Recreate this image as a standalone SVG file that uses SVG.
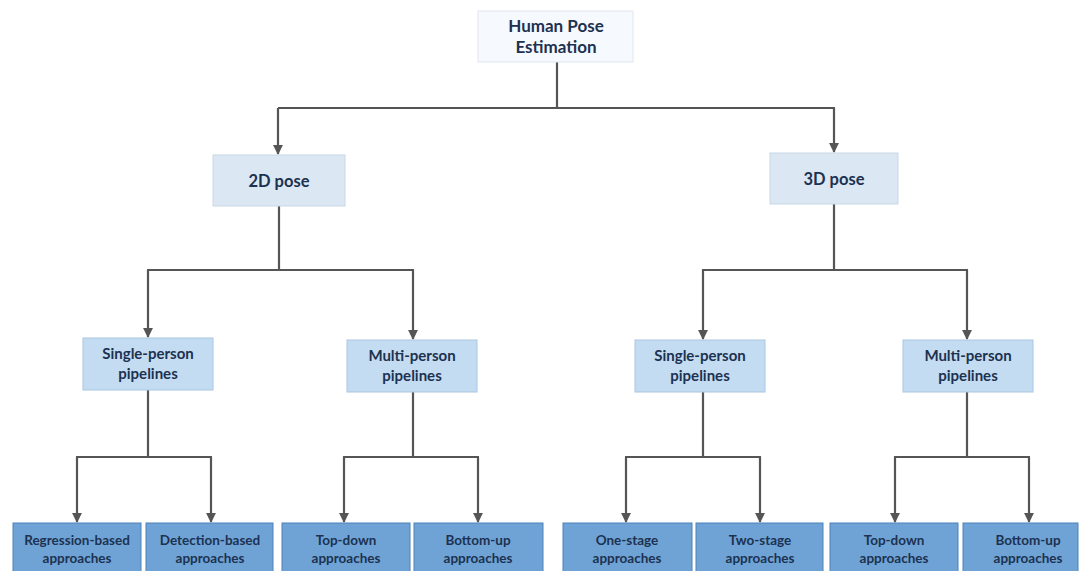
<svg xmlns="http://www.w3.org/2000/svg" width="1080" height="571" viewBox="0 0 1080 571">
  <defs>
    <marker id="arr" viewBox="0 0 10 10" refX="9" refY="5" markerWidth="4.5" markerHeight="4.5" orient="auto" markerUnits="strokeWidth">
      <path d="M0,0 L10,5 L0,10 z" fill="#555"/>
    </marker>
    <style>
      .root { fill: #f6f9fd; stroke: #dfe6ee; stroke-width: 1; }
      .mid { fill: #dbe7f3; stroke: #c9d7e6; stroke-width: 1; }
      .sub { fill: #c4dcf1; stroke: #a9c6e2; stroke-width: 1; }
      .leaf { fill: #6fa3d6; stroke: #4d82b8; stroke-width: 1; }
      .t { font-family: Lato, "Open Sans", "Liberation Sans", sans-serif; font-weight: 700; fill: #1c3250; text-anchor: middle; }
      .conn { fill: none; stroke: #555; stroke-width: 2.2; }
    </style>
  </defs>
  <rect width="1080" height="571" fill="#ffffff"/>

  <!-- connectors -->
  <g id="connectors">
    <path class="conn" d="M557,62 V108"/>
    <path class="conn" d="M278,108 H835"/>
    <path class="conn" d="M278,108 V154" marker-end="url(#arr)"/>
    <path class="conn" d="M834,108 V152" marker-end="url(#arr)"/>

    <path class="conn" d="M279,206 V270"/>
    <path class="conn" d="M147,270 H414"/>
    <path class="conn" d="M148,270 V337" marker-end="url(#arr)"/>
    <path class="conn" d="M413,270 V339" marker-end="url(#arr)"/>

    <path class="conn" d="M834,204 V270"/>
    <path class="conn" d="M702,270 H968"/>
    <path class="conn" d="M703,270 V339" marker-end="url(#arr)"/>
    <path class="conn" d="M967,270 V339" marker-end="url(#arr)"/>

    <path class="conn" d="M148,390 V457"/>
    <path class="conn" d="M76,457 H212"/>
    <path class="conn" d="M77,457 V522" marker-end="url(#arr)"/>
    <path class="conn" d="M211,457 V522" marker-end="url(#arr)"/>

    <path class="conn" d="M413,392 V457"/>
    <path class="conn" d="M343,457 H479"/>
    <path class="conn" d="M344,457 V522" marker-end="url(#arr)"/>
    <path class="conn" d="M478,457 V522" marker-end="url(#arr)"/>

    <path class="conn" d="M703,392 V457"/>
    <path class="conn" d="M625,457 H761"/>
    <path class="conn" d="M626,457 V522" marker-end="url(#arr)"/>
    <path class="conn" d="M760,457 V522" marker-end="url(#arr)"/>

    <path class="conn" d="M967,392 V457"/>
    <path class="conn" d="M894,457 H1030"/>
    <path class="conn" d="M895,457 V522" marker-end="url(#arr)"/>
    <path class="conn" d="M1029,457 V522" marker-end="url(#arr)"/>
  </g>

  <!-- root -->
  <g id="n-root">
    <rect class="root" x="478" y="11" width="155" height="51"/>
    <text class="t" x="556" y="32" font-size="17">Human Pose</text>
    <text class="t" x="556" y="53" font-size="17">Estimation</text>
  </g>

  <!-- level 1 -->
  <g id="n-2d">
    <rect class="mid" x="213" y="155" width="132" height="51"/>
    <text class="t" x="279" y="187" font-size="16.5">2D pose</text>
  </g>
  <g id="n-3d">
    <rect class="mid" x="770" y="153" width="128" height="51"/>
    <text class="t" x="834" y="185" font-size="16.5">3D pose</text>
  </g>

  <!-- level 2 -->
  <g id="n-2d-single">
    <rect class="sub" x="83" y="338" width="130" height="52"/>
    <text class="t" x="148" y="359" font-size="15">Single-person</text>
    <text class="t" x="148" y="379" font-size="15">pipelines</text>
  </g>
  <g id="n-2d-multi">
    <rect class="sub" x="347" y="340" width="130" height="52"/>
    <text class="t" x="412" y="361" font-size="15">Multi-person</text>
    <text class="t" x="412" y="381" font-size="15">pipelines</text>
  </g>
  <g id="n-3d-single">
    <rect class="sub" x="635" y="340" width="130" height="52"/>
    <text class="t" x="700" y="361" font-size="15">Single-person</text>
    <text class="t" x="700" y="381" font-size="15">pipelines</text>
  </g>
  <g id="n-3d-multi">
    <rect class="sub" x="903" y="340" width="130" height="52"/>
    <text class="t" x="968" y="361" font-size="15">Multi-person</text>
    <text class="t" x="968" y="381" font-size="15">pipelines</text>
  </g>

  <!-- level 3 -->
  <g id="n-regression">
    <rect class="leaf" x="13" y="523" width="128" height="52"/>
    <text class="t" x="77" y="545" font-size="13.5">Regression-based</text>
    <text class="t" x="77" y="563" font-size="13.5">approaches</text>
  </g>
  <g id="n-detection">
    <rect class="leaf" x="146" y="523" width="127" height="52"/>
    <text class="t" x="210" y="545" font-size="13.5">Detection-based</text>
    <text class="t" x="210" y="563" font-size="13.5">approaches</text>
  </g>
  <g id="n-2d-topdown">
    <rect class="leaf" x="282" y="523" width="128" height="52"/>
    <text class="t" x="346" y="545" font-size="13.5">Top-down</text>
    <text class="t" x="346" y="563" font-size="13.5">approaches</text>
  </g>
  <g id="n-2d-bottomup">
    <rect class="leaf" x="414" y="523" width="129" height="52"/>
    <text class="t" x="478" y="545" font-size="13.5">Bottom-up</text>
    <text class="t" x="478" y="563" font-size="13.5">approaches</text>
  </g>
  <g id="n-onestage">
    <rect class="leaf" x="563" y="523" width="129" height="52"/>
    <text class="t" x="627" y="545" font-size="13.5">One-stage</text>
    <text class="t" x="627" y="563" font-size="13.5">approaches</text>
  </g>
  <g id="n-twostage">
    <rect class="leaf" x="696" y="523" width="127" height="52"/>
    <text class="t" x="760" y="545" font-size="13.5">Two-stage</text>
    <text class="t" x="760" y="563" font-size="13.5">approaches</text>
  </g>
  <g id="n-3d-topdown">
    <rect class="leaf" x="830" y="523" width="128" height="52"/>
    <text class="t" x="894" y="545" font-size="13.5">Top-down</text>
    <text class="t" x="894" y="563" font-size="13.5">approaches</text>
  </g>
  <g id="n-3d-bottomup">
    <rect class="leaf" x="963" y="523" width="115" height="52"/>
    <text class="t" x="1028" y="545" font-size="13.5">Bottom-up</text>
    <text class="t" x="1028" y="563" font-size="13.5">approaches</text>
  </g>
</svg>
